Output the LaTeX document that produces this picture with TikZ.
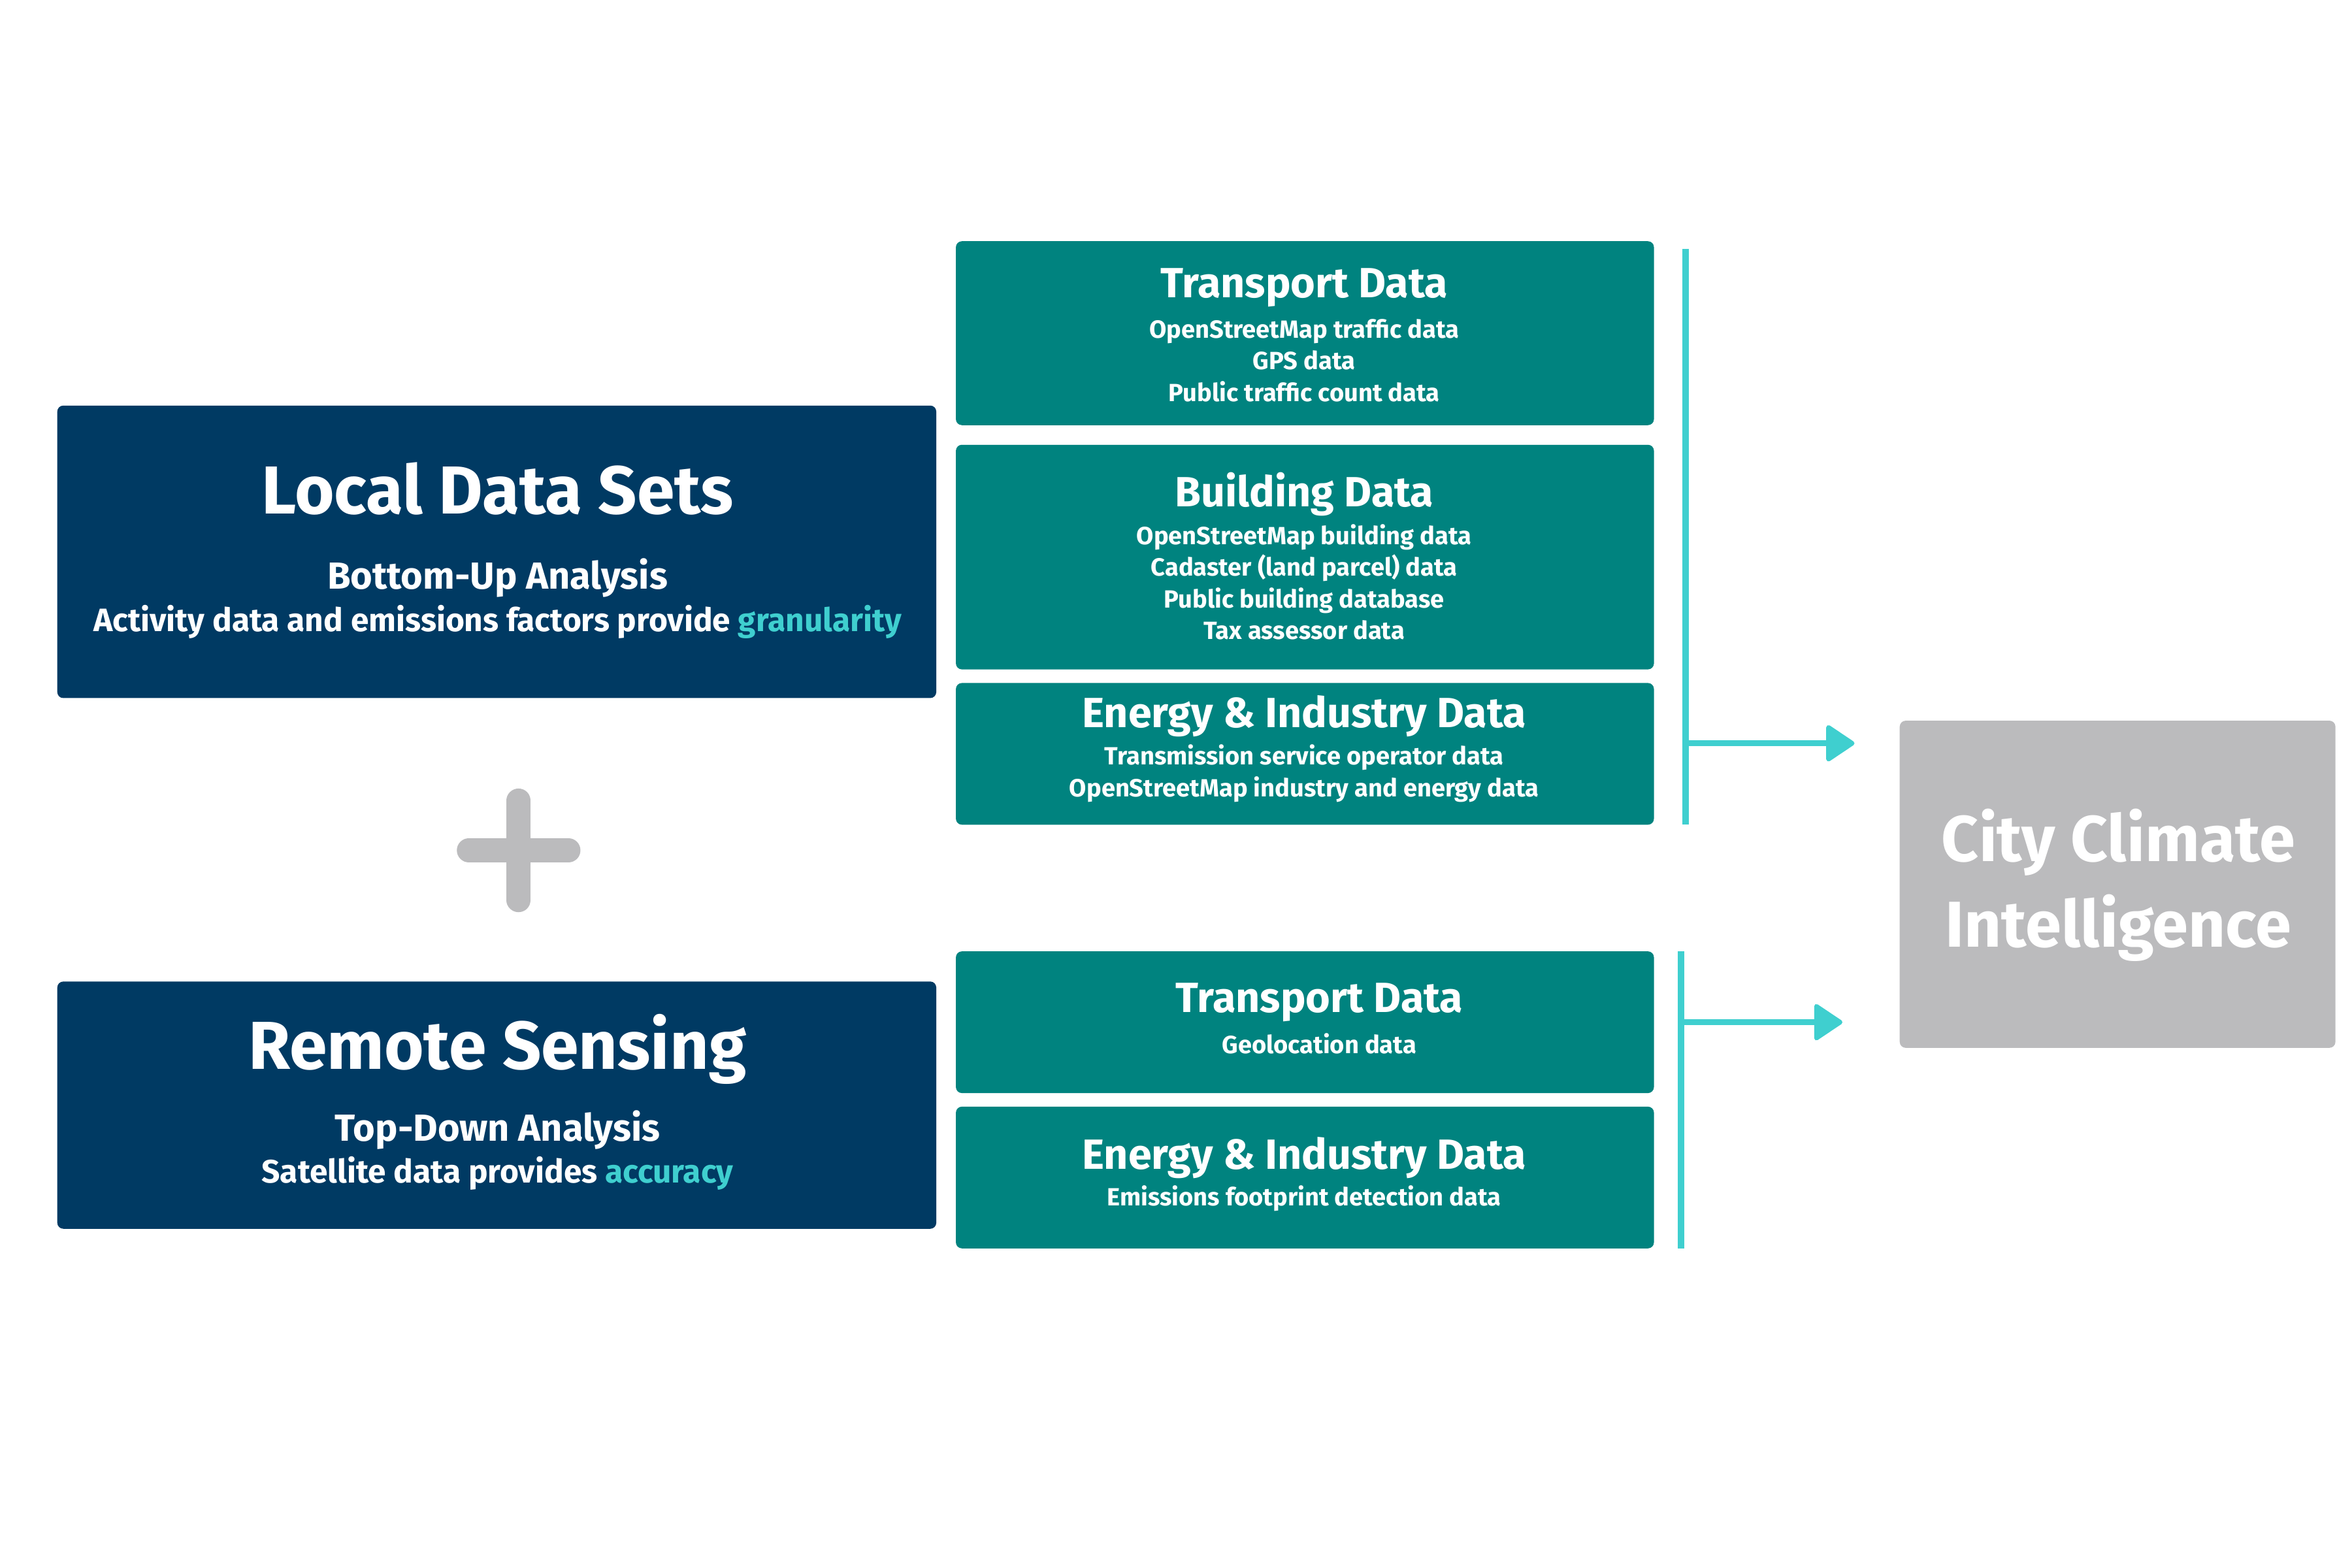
\documentclass[tikz,border=0pt]{standalone}
\usepackage{fontspec}
\setmainfont{Fira Sans}
\usetikzlibrary{positioning,arrows.meta}
\definecolor{navy}{HTML}{003A63}
\definecolor{teal}{HTML}{00837F}
\definecolor{aqua}{HTML}{3FCFCF}
\definecolor{stone}{HTML}{BBBBBD}
\tikzset{
  src/.style={fill=navy,rounded corners=4pt,draw=none},
  grp/.style={fill=teal,rounded corners=4pt,draw=none},
  hd/.style={text=white,font=\fontsize{28}{30}\selectfont\bfseries},
  sub/.style={text=white,font=\fontsize{16.5}{21}\selectfont\bfseries,align=center},
  link/.style={aqua,line width=4pt},
  tip/.style={-{Triangle[length=20pt,width=26pt,line join=round,line width=3pt]}},
}
\begin{document}
\begin{tikzpicture}[x=1pt,y=-1pt,>=latex]
\useasboundingbox (0,0) rectangle (1560,1040);
%% left sources
\path[src] (38,269) rectangle (621,463);
\node (local) at (330,324) [text=white,font=\fontsize{45}{48}\selectfont\bfseries] {Local Data Sets};
\node (localsub) at (330,397) [text=white,align=center,font=\bfseries] {{\fontsize{25}{30}\selectfont Bottom-Up Analysis}\\[4pt]{\fontsize{21.5}{24}\selectfont Activity data and emissions factors provide \textcolor{aqua}{granularity}}};
\path[src] (38,651) rectangle (621,815);
\node (remote) at (330,696) [text=white,font=\fontsize{45}{48}\selectfont\bfseries] {Remote Sensing};
\node (remotesub) at (330,763) [text=white,align=center,font=\bfseries] {{\fontsize{25}{30}\selectfont Top-Down Analysis}\\[4pt]{\fontsize{21.5}{24}\selectfont Satellite data provides \textcolor{aqua}{accuracy}}};
%% plus
\draw[stone,line width=16pt,line cap=round] (311,564) -- (377,564) (344,531) -- (344,597);
%% data groups
\path[grp] (634,160) rectangle (1097,282);
\node (tr1) at (865,191) [hd] {Transport Data};
\node (tr1sub) at (865,239) [sub] {OpenStreetMap traffic data\\GPS data\\Public traffic count data};
\path[grp] (634,295) rectangle (1097,444);
\node (bd) at (865,328) [hd] {Building Data};
\node (bdsub) at (865,386) [sub] {OpenStreetMap building data\\Cadaster (land parcel) data\\Public building database\\Tax assessor data};
\path[grp] (634,453) rectangle (1097,547);
\node (en1) at (865,475) [hd] {Energy \& Industry Data};
\node (en1sub) at (865,513) [sub] {Transmission service operator data\\OpenStreetMap industry and energy data};
\path[grp] (634,631) rectangle (1097,725);
\node (tr2) at (875,665) [hd] {Transport Data};
\node (tr2sub) at (875,692) [sub] {Geolocation data};
\path[grp] (634,734) rectangle (1097,828);
\node (en2) at (865,768) [hd] {Energy \& Industry Data};
\node (en2sub) at (865,795) [sub] {Emissions footprint detection data};
%% target
\path[fill=stone,rounded corners=4pt] (1260,478) rectangle (1549,695);
\node (city) at (1405,587) [text=white,align=center,font=\fontsize{43}{57}\selectfont\bfseries] {City Climate\\Intelligence};
%% connectors
\coordinate (top1) at (1118,165);
\coordinate (bot1) at (1118,547);
\coordinate (mid1) at (1118,493);
\coordinate (end1) at (1230,493);
\coordinate (top2) at (1115,631);
\coordinate (bot2) at (1115,828);
\coordinate (mid2) at (1115,678);
\coordinate (end2) at (1222,678);
\draw[link] (top1) -- (bot1);
\draw[link,tip] (mid1) -- (end1);
\draw[link] (top2) -- (bot2);
\draw[link,tip] (mid2) -- (end2);
\end{tikzpicture}
\end{document}
